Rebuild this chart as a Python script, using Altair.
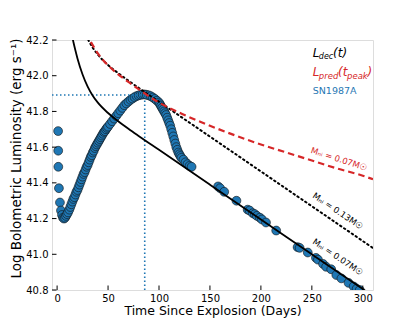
import altair as alt
import pandas as pd

# ---------------- data ----------------
sn_days = [1.0, 1.1, 1.2, 1.8, 2.8, 3.8, 4.8, 5.8, 6.8, 7.8, 8.8, 9.8, 10.8,
           12, 13, 14, 15, 16, 17, 18, 19, 20, 21, 22, 23, 24, 25, 26, 27, 28, 29,
           30, 31, 32, 33, 34, 35, 36, 37, 38, 39, 40, 41, 42, 43, 44, 45, 46, 47,
           48, 49, 50, 52, 54, 56, 58, 60, 62, 64, 66, 68, 70, 72, 74, 76, 78, 80,
           82, 84, 86, 88, 90, 92, 94, 96, 98, 100, 101, 102, 103, 104, 105, 106,
           107, 108, 109, 110, 111, 112, 113, 114, 115, 116, 117, 118, 119, 120,
           121, 122, 124, 126, 128, 130, 132,
           158, 160, 164, 176, 187, 189, 192, 194, 196, 199, 201, 205, 215, 236,
           238, 246, 254, 256, 261, 264, 269, 274, 279, 286, 291, 294, 297]
sn_logL = [41.69, 41.58, 41.49, 41.37, 41.29, 41.245, 41.22, 41.205, 41.20, 41.205,
           41.215, 41.225, 41.235,
           41.25, 41.265, 41.28, 41.295, 41.31, 41.32, 41.335, 41.35, 41.36, 41.375,
           41.39, 41.405, 41.42, 41.435, 41.45, 41.46, 41.475, 41.49,
           41.50, 41.515, 41.53, 41.545, 41.555, 41.57, 41.58, 41.595, 41.605, 41.615,
           41.625, 41.635, 41.645, 41.655, 41.665, 41.675, 41.685, 41.69,
           41.70, 41.708, 41.715, 41.73, 41.745, 41.76, 41.775, 41.79, 41.805, 41.82,
           41.835, 41.845, 41.855, 41.865, 41.872, 41.88, 41.886, 41.89,
           41.893, 41.895, 41.895, 41.893, 41.89, 41.885, 41.878, 41.87, 41.86, 41.85,
           41.84, 41.83, 41.82, 41.81, 41.80, 41.79,
           41.78, 41.765, 41.75, 41.735, 41.72, 41.70, 41.68, 41.66, 41.64, 41.62,
           41.60, 41.585, 41.57, 41.56,
           41.55, 41.54, 41.53, 41.515, 41.505, 41.495, 41.49,
           41.38, 41.37, 41.35, 41.30, 41.25, 41.245, 41.23, 41.225, 41.215, 41.205,
           41.195, 41.178, 41.133, 41.04,
           41.036, 41.01, 40.98, 40.97, 40.946, 40.93, 40.916, 40.884, 40.865, 40.84,
           40.82, 40.807, 40.80]

# L_dec(t) for M_Ni = 0.07 Msun (solid black)
dec07_days = [12, 14, 16, 18, 20, 25, 30, 35, 40, 50, 60, 70, 80, 100, 150, 200, 250, 300, 310]
dec07_logL = [42.300, 42.242, 42.189, 42.141, 42.097, 42.007, 41.939, 41.888, 41.849,
              41.791, 41.745, 41.703, 41.663, 41.585, 41.390, 41.195, 41.000, 40.805, 40.766]

# L_dec(t) for M_Ni = 0.13 Msun (dotted black)
dec13_days = [25, 28, 30, 35, 40, 50, 60, 70, 80, 100, 150, 200, 250, 300, 310]
dec13_logL = [42.276, 42.233, 42.208, 42.157, 42.118, 42.060, 42.014, 41.972, 41.932,
              41.854, 41.659, 41.464, 41.269, 41.074, 41.035]

# L_pred(t_peak) (dashed red)
pred_days = [28, 32, 40, 50, 60, 70, 80, 90, 100, 125, 150, 175, 200, 225, 250, 275, 300, 310]
pred_logL = [42.24, 42.20, 42.125, 42.058, 42.008, 41.965, 41.925, 41.885, 41.85, 41.78,
             41.72, 41.665, 41.615, 41.57, 41.525, 41.48, 41.44, 41.42]

peak_day = [86]
peak_logL = [41.892]

x_domain = [-5, 310]
y_domain = [40.8, 42.2]
x_ticks = [0, 50, 100, 150, 200, 250, 300]
y_ticks = [40.8, 41.0, 41.2, 41.4, 41.6, 41.8, 42.0, 42.2]

# ---------------- chart ----------------
FONT = "DejaVu Sans"
BLUE = "#1f77b4"
RED = "#d62728"

xs = alt.Scale(domain=x_domain, nice=False, zero=False)
ys = alt.Scale(domain=y_domain, nice=False, zero=False)

x_axis = alt.Axis(values=x_ticks, title="Time Since Explosion (Days)", labelFontSize=10,
                  titleFontSize=12.5, labelPadding=3, ticks=False, domain=False, grid=False,
                  titleY=24, titleBaseline="alphabetic", labelColor="black",
                  titleColor="black", titleFontWeight="normal", labelFont=FONT, titleFont=FONT)
y_axis = alt.Axis(values=y_ticks, format=".1f", title="Log Bolometric Luminosity (erg s⁻¹)",
                  labelFontSize=10, titleFontSize=13.5, labelPadding=4, ticks=False,
                  domain=False, grid=False, titleX=-36, titleY=118, titleAngle=270,
                  titleBaseline="middle", titleAlign="center", labelColor="black",
                  titleColor="black", titleFontWeight="normal", labelFont=FONT, titleFont=FONT)


def X(field):
    return alt.X(field, scale=xs, axis=x_axis)


def Y(field):
    return alt.Y(field, scale=ys, axis=y_axis)


sn_df = pd.DataFrame({"d": sn_days, "v": sn_logL})
points = alt.Chart(sn_df).mark_circle(size=78, color=BLUE, stroke="#111111",
                                      strokeWidth=0.6, opacity=1, clip=True).encode(
    x=X("d:Q"), y=Y("v:Q"))


def curve(days, vals, **mark):
    df = pd.DataFrame({"d": days, "v": vals})
    return alt.Chart(df).mark_line(clip=True, interpolate="monotone", **mark).encode(
        x=X("d:Q"), y=Y("v:Q"), order="d:Q")


line07 = curve(dec07_days, dec07_logL, color="black", strokeWidth=1.8)
line13 = curve(dec13_days, dec13_logL, color="black", strokeWidth=2, strokeDash=[1.5, 3.2],
               strokeCap="round")
linepred = curve(pred_days, pred_logL, color=RED, strokeWidth=2.2, strokeDash=[6.5, 4])

peak_df = pd.DataFrame({"d": peak_day, "v": peak_logL, "x0": [x_domain[0]], "y0": [y_domain[0]]})
hpeak = alt.Chart(peak_df).mark_rule(color=BLUE, strokeWidth=1.6, strokeDash=[1.5, 2.5]).encode(
    x=X("x0:Q"), x2="d:Q", y=Y("v:Q"))
vpeak = alt.Chart(peak_df).mark_rule(color=BLUE, strokeWidth=1.6, strokeDash=[1.5, 2.5]).encode(
    x=X("d:Q"), y=Y("y0:Q"), y2="v:Q")

xt = alt.Chart(pd.DataFrame({"d": x_ticks})).mark_rule(color="black", strokeWidth=1).encode(
    x=X("d:Q"), y=alt.value(250), y2=alt.value(245.5))
yt = alt.Chart(pd.DataFrame({"v": y_ticks})).mark_rule(color="black", strokeWidth=1).encode(
    y=Y("v:Q"), x=alt.value(0), x2=alt.value(4.5))

one = pd.DataFrame({"a": [0]})


def txt(s, x, y, size, color="black", italic=False, angle=0, align="left"):
    kw = dict(text=s, fontSize=size, color=color, font=FONT, align=align,
              baseline="middle", angle=angle)
    if italic:
        kw["fontStyle"] = "italic"
    return alt.Chart(one).mark_text(**kw).encode(x=alt.value(x), y=alt.value(y))


texts = [
    # legend line 1: L_dec(t)
    txt("L", 260.7, 13.3, 12, italic=True),
    txt("dec", 266.8, 16.8, 8, italic=True),
    txt("(t)", 281.0, 13.3, 12, italic=True),
    # legend line 2: L_pred(t_peak)
    txt("L", 260.7, 32.3, 12, color=RED, italic=True),
    txt("pred", 266.8, 35.8, 8.5, color=RED, italic=True),
    txt("(t", 286.0, 32.3, 12, color=RED, italic=True),
    txt("peak", 295.0, 35.8, 8.5, color=RED, italic=True),
    txt(")", 315.5, 32.3, 12, color=RED, italic=True),
    # legend line 3
    txt("SN1987A", 260.7, 51.0, 9.5, color=BLUE),
    # curve labels
    txt("Mₙᵢ = 0.07M☉", 287, 119, 8.5, color=RED, angle=18, align="center"),
    txt("Mₙᵢ = 0.13M☉", 286, 171, 8.5, angle=34, align="center"),
    txt("Mₙᵢ = 0.07M☉", 286, 217, 8.5, angle=34, align="center"),
]

chart = alt.layer(points, hpeak, vpeak, line13, linepred, line07, xt, yt, *texts).properties(
    width=321, height=250,
    autosize=alt.AutoSizeParams(type="none"),
    padding={"left": 44, "top": 32, "right": 34, "bottom": 34},
).configure_view(stroke="black", strokeWidth=1.2).configure(background="white")

chart.save("out.html", embed_options={"renderer": "svg", "actions": False})
